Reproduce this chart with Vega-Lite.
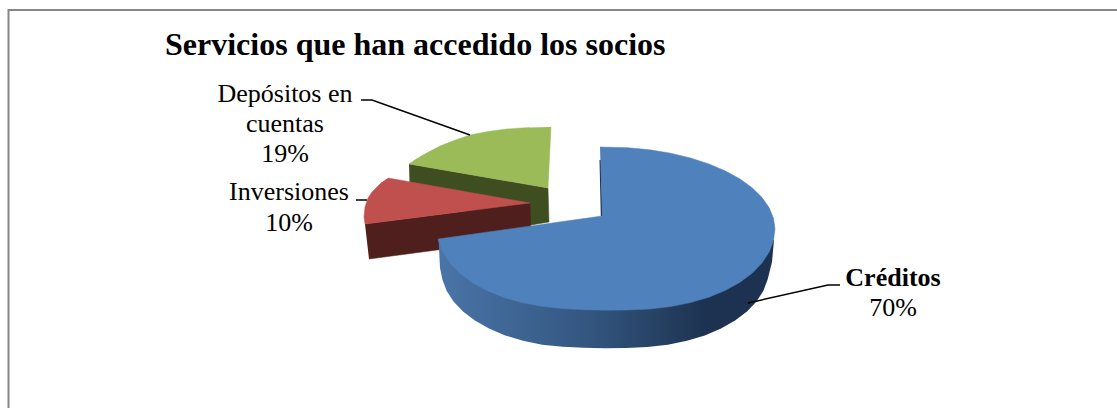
{
  "$schema": "https://vega.github.io/schema/vega-lite/v6.json",
  "autosize": {"type": "none"},
  "width": 1117,
  "height": 408,
  "padding": 0,
  "background": "white",
  "view": {"stroke": null},
  "datasets": {
    "frame": [
      {"i": 0, "x": 8.5, "y": 408},
      {"i": 1, "x": 8.5, "y": 10},
      {"i": 2, "x": 1117, "y": 10}
    ],
    "greenSide": [
      {"i": 0, "x": 409, "y": 164}, {"i": 1, "x": 548, "y": 188}, {"i": 2, "x": 549, "y": 222},
      {"i": 3, "x": 531, "y": 225}, {"i": 4, "x": 410, "y": 200}
    ],
    "greenFace": [
      {"i": 0, "x": 551, "y": 127}, {"i": 1, "x": 548, "y": 188}, {"i": 2, "x": 409, "y": 164},
      {"i": 3, "x": 415.5, "y": 159.5}, {"i": 4, "x": 423, "y": 155}, {"i": 5, "x": 430.5, "y": 151},
      {"i": 6, "x": 440, "y": 146}, {"i": 7, "x": 454, "y": 140.5}, {"i": 8, "x": 470, "y": 135},
      {"i": 9, "x": 488, "y": 131.5}, {"i": 10, "x": 507, "y": 129}, {"i": 11, "x": 529, "y": 127.5}
    ],
    "redSide": [
      {"i": 0, "x": 365, "y": 224}, {"i": 1, "x": 530, "y": 203}, {"i": 2, "x": 531, "y": 238},
      {"i": 3, "x": 437, "y": 250}, {"i": 4, "x": 369, "y": 259}
    ],
    "redFace": [
      {"i": 0, "x": 388, "y": 178}, {"i": 1, "x": 530, "y": 203}, {"i": 2, "x": 365, "y": 224},
      {"i": 3, "x": 364, "y": 217}, {"i": 4, "x": 365, "y": 207}, {"i": 5, "x": 368, "y": 198},
      {"i": 6, "x": 372, "y": 192}, {"i": 7, "x": 377, "y": 187}, {"i": 8, "x": 382, "y": 182}
    ],
    "blueSide": [
      {"i": 0, "x": 438.6, "y": 240}, {"i": 1, "x": 774, "y": 240}, {"i": 2, "x": 772, "y": 262},
      {"i": 3, "x": 767.6, "y": 279.4}, {"i": 4, "x": 763.4, "y": 290.7}, {"i": 5, "x": 756.5, "y": 301.4},
      {"i": 6, "x": 747, "y": 311.5}, {"i": 7, "x": 735.1, "y": 320.6}, {"i": 8, "x": 721, "y": 328.6},
      {"i": 9, "x": 704.8, "y": 335.4}, {"i": 10, "x": 687, "y": 340.8}, {"i": 11, "x": 667.8, "y": 344.7},
      {"i": 12, "x": 647.4, "y": 347}, {"i": 13, "x": 626.4, "y": 348}, {"i": 14, "x": 605, "y": 348.3},
      {"i": 15, "x": 583.6, "y": 347.8}, {"i": 16, "x": 562.6, "y": 346.8}, {"i": 17, "x": 542.2, "y": 344.7},
      {"i": 18, "x": 523, "y": 340.8}, {"i": 19, "x": 505.2, "y": 335.4}, {"i": 20, "x": 489, "y": 328.6},
      {"i": 21, "x": 474.9, "y": 320.6}, {"i": 22, "x": 463, "y": 311.5}, {"i": 23, "x": 453.5, "y": 301.4},
      {"i": 24, "x": 446.6, "y": 290.7}, {"i": 25, "x": 442.4, "y": 279.4}, {"i": 26, "x": 440, "y": 268}
    ],
    "blueInner": [
      {"i": 0, "x": 599.5, "y": 160}, {"i": 1, "x": 600.8, "y": 216}, {"i": 2, "x": 602.5, "y": 216}, {"i": 3, "x": 601, "y": 160}
    ],
    "blueFace": [
      {"i": 0, "x": 600, "y": 147}, {"i": 1, "x": 628.1, "y": 147.7}, {"i": 2, "x": 649.7, "y": 149.8},
      {"i": 3, "x": 670.7, "y": 153.2}, {"i": 4, "x": 690.5, "y": 158}, {"i": 5, "x": 708.9, "y": 163.9},
      {"i": 6, "x": 725.5, "y": 171}, {"i": 7, "x": 740.1, "y": 179.1}, {"i": 8, "x": 752.4, "y": 188},
      {"i": 9, "x": 762.1, "y": 197.6}, {"i": 10, "x": 769.2, "y": 207.8}, {"i": 11, "x": 773.5, "y": 218.3},
      {"i": 12, "x": 775, "y": 229}, {"i": 13, "x": 773.5, "y": 240.6}, {"i": 14, "x": 769.2, "y": 252},
      {"i": 15, "x": 762.1, "y": 262.8}, {"i": 16, "x": 752.4, "y": 273}, {"i": 17, "x": 740.1, "y": 282.2},
      {"i": 18, "x": 725.5, "y": 290.3}, {"i": 19, "x": 708.9, "y": 297.2}, {"i": 20, "x": 690.5, "y": 302.6},
      {"i": 21, "x": 670.7, "y": 306.6}, {"i": 22, "x": 649.7, "y": 309}, {"i": 23, "x": 628.1, "y": 310},
      {"i": 24, "x": 606, "y": 310.3}, {"i": 25, "x": 583.9, "y": 309.8}, {"i": 26, "x": 562.3, "y": 308.6},
      {"i": 27, "x": 541.3, "y": 306.2}, {"i": 28, "x": 521.5, "y": 302.6}, {"i": 29, "x": 503.1, "y": 297.2},
      {"i": 30, "x": 486.5, "y": 290.3}, {"i": 31, "x": 471.9, "y": 282.2}, {"i": 32, "x": 459.6, "y": 273},
      {"i": 33, "x": 449.9, "y": 262.8}, {"i": 34, "x": 442.8, "y": 252}, {"i": 35, "x": 438, "y": 239},
      {"i": 36, "x": 602, "y": 216}
    ],
    "leaders": [
      {"slice": "Depósitos", "i": 0, "x": 361, "y": 100}, {"slice": "Depósitos", "i": 1, "x": 372, "y": 100}, {"slice": "Depósitos", "i": 2, "x": 470, "y": 135},
      {"slice": "Inversiones", "i": 0, "x": 356, "y": 200}, {"slice": "Inversiones", "i": 1, "x": 367, "y": 200},
      {"slice": "Créditos", "i": 0, "x": 840, "y": 285}, {"slice": "Créditos", "i": 1, "x": 828, "y": 285}, {"slice": "Créditos", "i": 2, "x": 748, "y": 303}
    ],
    "labels": [
      {"text": "Depósitos en", "x": 285, "y": 102, "strong": false},
      {"text": "cuentas", "x": 285, "y": 132, "strong": false},
      {"text": "19%", "x": 285, "y": 162, "strong": false},
      {"text": "Inversiones", "x": 289, "y": 200, "strong": false},
      {"text": "10%", "x": 289, "y": 231, "strong": false},
      {"text": "Créditos", "x": 893, "y": 286, "strong": true},
      {"text": "70%", "x": 893, "y": 316, "strong": false}
    ],
    "heading": [
      {"text": "Servicios que han accedido los socios", "x": 165, "y": 55}
    ]
  },
  "encoding": {
    "x": {"field": "x", "type": "quantitative", "scale": {"domain": [0, 1117]}, "axis": null},
    "y": {"field": "y", "type": "quantitative", "scale": {"domain": [408, 0]}, "axis": null}
  },
  "layer": [
    {"data": {"name": "frame"}, "mark": {"type": "line", "stroke": "#868686", "strokeWidth": 2}, "encoding": {"order": {"field": "i"}}},
    {"data": {"name": "greenSide"}, "mark": {"type": "line", "fill": "#3f4e21", "stroke": "#3f4e21", "strokeWidth": 0.5}, "encoding": {"order": {"field": "i"}}},
    {"data": {"name": "greenFace"}, "mark": {"type": "line", "fill": "#9bbb59", "stroke": "#9bbb59", "strokeWidth": 0.5}, "encoding": {"order": {"field": "i"}}},
    {"data": {"name": "redSide"}, "mark": {"type": "line", "fill": "#4e1f1d", "stroke": "#4e1f1d", "strokeWidth": 0.5}, "encoding": {"order": {"field": "i"}}},
    {"data": {"name": "redFace"}, "mark": {"type": "line", "fill": "#c0504d", "stroke": "#c0504d", "strokeWidth": 0.5}, "encoding": {"order": {"field": "i"}}},
    {"data": {"name": "blueSide"}, "mark": {"type": "line", "strokeWidth": 0, "fill": {"gradient": "linear", "x1": 0, "y1": 0, "x2": 1, "y2": 0, "stops": [{"offset": 0, "color": "#4a75a8"}, {"offset": 0.45, "color": "#33567f"}, {"offset": 0.8, "color": "#1d3250"}, {"offset": 1, "color": "#1d3250"}]}}, "encoding": {"order": {"field": "i"}}},
    {"data": {"name": "blueInner"}, "mark": {"type": "line", "fill": "#1d3250", "strokeWidth": 0}, "encoding": {"order": {"field": "i"}}},
    {"data": {"name": "blueFace"}, "mark": {"type": "line", "fill": "#4f81bd", "stroke": "#4f81bd", "strokeWidth": 0.5}, "encoding": {"order": {"field": "i"}}},
    {"data": {"name": "leaders"}, "mark": {"type": "line", "stroke": "black", "strokeWidth": 1.5}, "encoding": {"order": {"field": "i"}, "detail": {"field": "slice"}}},
    {"data": {"name": "labels"}, "transform": [{"filter": "!datum.strong"}], "mark": {"type": "text", "font": "Liberation Serif", "fontSize": 26, "align": "center", "baseline": "alphabetic", "color": "black"}, "encoding": {"text": {"field": "text"}}},
    {"data": {"name": "labels"}, "transform": [{"filter": "datum.strong"}], "mark": {"type": "text", "font": "Liberation Serif", "fontSize": 26, "fontWeight": "bold", "align": "center", "baseline": "alphabetic", "color": "black"}, "encoding": {"text": {"field": "text"}}},
    {"data": {"name": "heading"}, "mark": {"type": "text", "font": "Liberation Serif", "fontSize": 32, "fontWeight": "bold", "align": "left", "baseline": "alphabetic", "color": "black"}, "encoding": {"text": {"field": "text"}}}
  ]
}
